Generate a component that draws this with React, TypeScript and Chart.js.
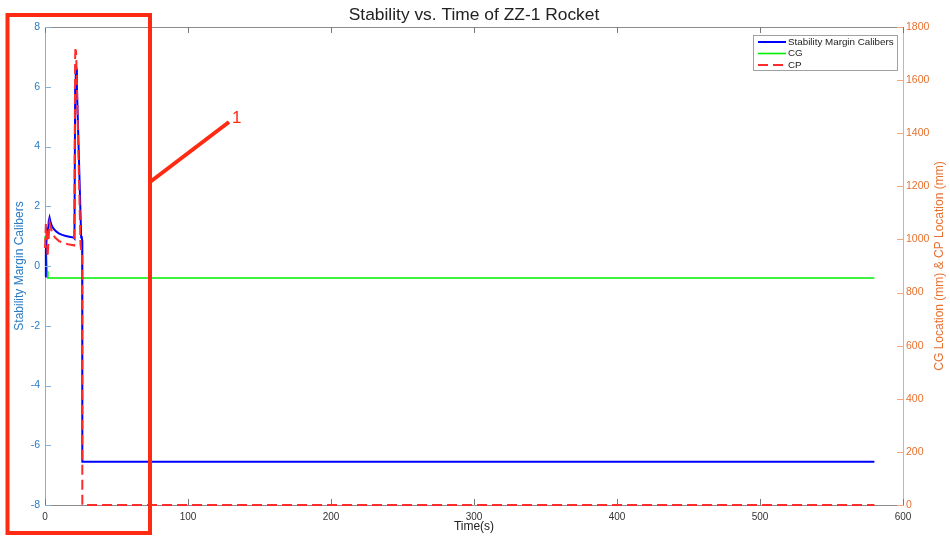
import React, { useEffect, useRef } from "react";
import { Chart, registerables } from "chart.js";

Chart.register(...registerables);

// ---- data ----
const xMin = 0;
const xMax = 600;
const xStep = 100;
const leftMin = -8;
const leftMax = 8;
const leftStep = 2;
const rightMin = 0;
const rightMax = 1800;
const rightStep = 200;

const stabilityTime = [0, 0.6, 1.4, 2.0, 2.6, 3.2, 4, 5, 6.5, 8, 10, 12, 14, 16, 18, 20, 20.6, 21.1, 21.5, 21.9, 22.3, 25.3, 25.6, 26.0, 26.1, 580];
const stabilityValues = [-0.35, 0.5, 1.1, 0.9, 1.5, 1.62, 1.45, 1.32, 1.22, 1.15, 1.08, 1.04, 1.01, 0.99, 0.97, 0.95, 0.92, 6.0, 6.75, 6.6, 6.0, 0.95, 1.0, 0.85, -6.55, -6.55];

const cgTime = [0, 0.5, 1.0, 1.5, 2.0, 580];
const cgValues = [1012, 990, 940, 880, 855, 855];

const cpTime = [0, 0.6, 1.2, 1.8, 2.4, 3.2, 4, 5, 7, 10, 13, 16, 19, 20.4, 20.8, 21.1, 21.3, 21.5, 21.7, 22.0, 24.8, 25.3, 26.0, 26.1, 580];
const cpValues = [968, 1058, 1035, 934, 990, 1063, 1046, 1026, 1007, 993, 987, 982, 979, 977, 1350, 1690, 1722, 1700, 1712, 1655, 985, 956, 950, 0, 0];

const seriesLabels = ["Stability Margin Calibers", "CG", "CP"];
const chartTitle = "Stability vs. Time of ZZ-1 Rocket";
const xTitle = "Time(s)";
const leftTitle = "Stability Margin Calibers";
const rightTitle = "CG Location (mm) & CP Location (mm)";
const annotationLabel = "1";

// ---- styles ----
const FONT = "'Liberation Sans', Arial, Helvetica, sans-serif";
const LEFT_COLOR = "#2a7bc4";
const RIGHT_COLOR = "#e8702e";
const LEFT_AXIS_LINE = "#7fb0de";
const RIGHT_AXIS_LINE = "#f4a57a";
const GRAY_AXIS = "#8c8c8c";
const ANNOT = "#ff2a12";

const pts = (xs: number[], ys: number[]) => xs.map((x, i) => ({ x, y: ys[i] }));
const plain = (v: any) => String(v);

const overlayPlugin = {
  id: "overlay",
  afterDraw(chart: any) {
    const ctx: CanvasRenderingContext2D = chart.ctx;
    const a = chart.chartArea;
    const sx = chart.scales.x;
    const sl = chart.scales.y;
    const sr = chart.scales.y1;
    const cx = (a.left + a.right) / 2;
    const cy = (a.top + a.bottom) / 2;
    ctx.save();

    // top box line
    ctx.strokeStyle = GRAY_AXIS;
    ctx.lineWidth = 1;
    ctx.beginPath();
    ctx.moveTo(a.left, a.top + 0.5);
    ctx.lineTo(a.right, a.top + 0.5);
    ctx.stroke();

    // inward ticks
    const tl = 6;
    ctx.strokeStyle = "#777";
    sx.ticks.forEach((t: any) => {
      const px = Math.round(sx.getPixelForValue(t.value)) + 0.5;
      ctx.beginPath();
      ctx.moveTo(px, a.bottom);
      ctx.lineTo(px, a.bottom - tl);
      ctx.moveTo(px, a.top);
      ctx.lineTo(px, a.top + tl);
      ctx.stroke();
    });
    ctx.strokeStyle = LEFT_AXIS_LINE;
    sl.ticks.forEach((t: any) => {
      const py = Math.round(sl.getPixelForValue(t.value)) + 0.5;
      ctx.beginPath();
      ctx.moveTo(a.left, py);
      ctx.lineTo(a.left + tl, py);
      ctx.stroke();
    });
    ctx.strokeStyle = RIGHT_AXIS_LINE;
    sr.ticks.forEach((t: any) => {
      const py = Math.round(sr.getPixelForValue(t.value)) + 0.5;
      ctx.beginPath();
      ctx.moveTo(a.right, py);
      ctx.lineTo(a.right - tl, py);
      ctx.stroke();
    });

    // titles
    ctx.fillStyle = "#222";
    ctx.font = `17.4px ${FONT}`;
    ctx.textAlign = "center";
    ctx.textBaseline = "middle";
    ctx.fillText(chartTitle, cx, 15);

    ctx.font = `12px ${FONT}`;
    ctx.fillStyle = "#222";
    ctx.fillText(xTitle, cx, 527);

    ctx.save();
    ctx.translate(20, cy);
    ctx.rotate(-Math.PI / 2);
    ctx.fillStyle = LEFT_COLOR;
    ctx.fillText(leftTitle, 0, 0);
    ctx.restore();

    ctx.save();
    ctx.translate(940, cy);
    ctx.rotate(-Math.PI / 2);
    ctx.fillStyle = RIGHT_COLOR;
    ctx.fillText(rightTitle, 0, 0);
    ctx.restore();

    // legend
    const lx = 753, ly = 35, lw = 144, lh = 35;
    ctx.fillStyle = "#fff";
    ctx.fillRect(lx, ly, lw, lh);
    ctx.strokeStyle = "#a0a0a0";
    ctx.lineWidth = 1;
    ctx.strokeRect(lx + 0.5, ly + 0.5, lw, lh);
    ctx.font = `9.8px ${FONT}`;
    ctx.textAlign = "left";
    ctx.textBaseline = "middle";
    chart.data.datasets.forEach((ds: any, i: number) => {
      const ry = ly + 7 + i * 11.5;
      ctx.save();
      ctx.strokeStyle = ds.borderColor;
      ctx.lineWidth = ds.borderWidth;
      ctx.setLineDash(ds.borderDash || []);
      ctx.beginPath();
      ctx.moveTo(lx + 5, ry);
      ctx.lineTo(lx + 33, ry);
      ctx.stroke();
      ctx.restore();
      ctx.fillStyle = "#222";
      ctx.fillText(ds.label, lx + 35, ry);
    });

    // annotation
    ctx.strokeStyle = ANNOT;
    ctx.lineWidth = 4;
    ctx.setLineDash([]);
    ctx.strokeRect(7.5, 15, 142.5, 518);
    ctx.beginPath();
    ctx.moveTo(150, 182);
    ctx.lineTo(229, 122);
    ctx.stroke();
    ctx.fillStyle = ANNOT;
    ctx.font = `17px ${FONT}`;
    ctx.textAlign = "left";
    ctx.textBaseline = "middle";
    ctx.fillText(annotationLabel, 232, 118);

    ctx.restore();
  },
};

export default function App() {
  const ref = useRef<HTMLCanvasElement | null>(null);

  useEffect(() => {
    if (!ref.current) return;
    const chart = new Chart(ref.current, {
      type: "line",
      data: {
        datasets: [
          {
            label: seriesLabels[0],
            data: pts(stabilityTime, stabilityValues),
            yAxisID: "y",
            borderColor: "#0000ff",
            borderWidth: 2,
            pointRadius: 0,
            tension: 0,
            order: 1,
            clip: false,
          } as any,
          {
            label: seriesLabels[1],
            data: pts(cgTime, cgValues),
            yAxisID: "y1",
            borderColor: "#00ee00",
            borderWidth: 1.6,
            pointRadius: 0,
            tension: 0,
            order: 2,
            clip: false,
          },
          {
            label: seriesLabels[2],
            data: pts(cpTime, cpValues),
            yAxisID: "y1",
            borderColor: "#ff2b2b",
            borderWidth: 2,
            borderDash: [10, 5],
            pointRadius: 0,
            tension: 0,
            order: 0,
            clip: false,
          },
        ],
      },
      options: {
        animation: false,
        responsive: false,
        maintainAspectRatio: false,
        layout: { padding: { top: 27, left: 0, right: 0, bottom: 0 } },
        plugins: {
          legend: { display: false },
          title: { display: false },
          tooltip: { enabled: false },
        },
        scales: {
          x: {
            type: "linear",
            min: xMin,
            max: xMax,
            ticks: { stepSize: xStep, color: "#333", font: { family: FONT, size: 10 }, padding: 6, maxRotation: 0, callback: plain },
            grid: { display: true, drawOnChartArea: false, drawTicks: false },
            border: { display: true, color: GRAY_AXIS, width: 1 },
            afterFit: (s: any) => { s.height = 35; },
          },
          y: {
            type: "linear",
            position: "left",
            min: leftMin,
            max: leftMax,
            ticks: { stepSize: leftStep, color: LEFT_COLOR, font: { family: FONT, size: 10.5 }, padding: 5, callback: plain },
            grid: { display: true, drawOnChartArea: false, drawTicks: false },
            border: { display: true, color: LEFT_AXIS_LINE, width: 1 },
            afterFit: (s: any) => { s.width = 45; },
          },
          y1: {
            type: "linear",
            position: "right",
            min: rightMin,
            max: rightMax,
            ticks: { stepSize: rightStep, color: RIGHT_COLOR, font: { family: FONT, size: 10.5 }, padding: 3, callback: plain },
            grid: { display: true, drawOnChartArea: false, drawTicks: false },
            border: { display: true, color: RIGHT_AXIS_LINE, width: 1 },
            afterFit: (s: any) => { s.width = 47; },
          },
        },
      },
      plugins: [overlayPlugin],
    });
    return () => chart.destroy();
  }, []);

  return (
    <div style={{ position: "absolute", left: 0, top: 0, width: 950, height: 540, background: "#fff" }}>
      <canvas ref={ref} width={950} height={540} style={{ display: "block" }} />
    </div>
  );
}
